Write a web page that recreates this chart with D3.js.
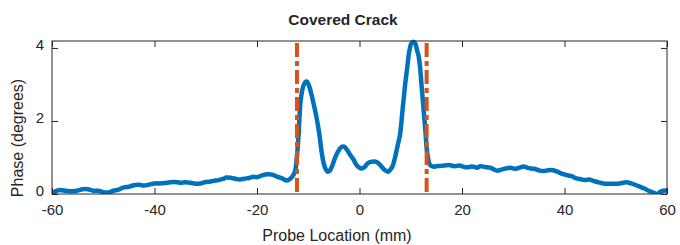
<!DOCTYPE html>
<html>
<head>
<meta charset="utf-8">
<style>
  body { margin: 0; background: #fff; }
  text { font-family: "Liberation Sans", Arial, sans-serif; fill: #262626; }
</style>
</head>
<body>
<svg id="chart" width="680" height="245"></svg>
<script src="https://d3js.org/d3.v7.min.js"></script>
<script>
// probe location (mm) and phase (degrees)
var locations = [
  -60, -59, -58.5, -57, -55.5, -54, -53, -52, -51, -50, -49, -48, -47, -46, -45, -44, -43, -42,
  -41, -40, -39, -38, -37, -36, -35, -34, -33, -32, -31, -30, -29, -28.5, -27.5, -26.5, -26,
  -25, -24, -23.3, -22.5, -21.5, -20.7, -20, -19, -18, -17, -16, -15, -14.2, -13.5, -13, -12.6,
  -12.2, -11.9, -11.5, -11, -10.6, -10.3, -10, -9.5, -9, -8.35, -7.8, -7.4, -7, -6.6, -6.2,
  -5.8, -5.3, -4.8, -4.2, -3.6, -3, -2.4, -1.8, -1.2, -0.6, 0, 0.4, 1, 1.6, 2.2, 2.9, 3.6,
  4.3, 5, 5.6, 6.1, 6.5, 6.9, 7.4, 7.9, 8.4, 8.9, 9.3, 9.7, 10.1, 10.5, 10.9, 11.2, 11.5,
  11.8, 12.1, 12.4, 12.65, 12.9, 13.1, 13.35, 13.6, 13.9, 14.4, 15, 16, 17, 17.7, 18.5, 19.5,
  20.2, 20.9, 22, 23, 23.5, 24.5, 25.5, 26.8, 28, 29.4, 30.5, 31.2, 32, 33, 34, 35.2, 36,
  36.8, 37.8, 38.8, 39.6, 40.4, 41.5, 42.3, 43, 44, 44.9, 45.8, 46.7, 47.6, 48.5, 49.5,
  50.8, 51.5, 52.1, 53, 54, 54.7, 55.6, 56.4, 57.3, 57.8, 58.2, 58.7, 59.3, 60
];
var phase = [
  0.03, 0.09, 0.11, 0.08, 0.08, 0.13, 0.13, 0.09, 0.09, 0.05, 0.04, 0.09, 0.12, 0.18, 0.2, 0.24, 0.25, 0.23,
  0.26, 0.29, 0.29, 0.3, 0.32, 0.33, 0.31, 0.32, 0.31, 0.28, 0.29, 0.33, 0.34, 0.36, 0.38, 0.42, 0.45,
  0.44, 0.41, 0.40, 0.42, 0.44, 0.47, 0.46, 0.51, 0.54, 0.53, 0.47, 0.42, 0.37, 0.42, 0.50, 0.61,
  1.05, 1.6, 2.53, 2.94, 3.06, 3.08, 3.02, 2.8, 2.5, 2.07, 1.6, 1.16, 0.85, 0.68, 0.61,
  0.64, 0.78, 0.98, 1.16, 1.28, 1.3, 1.2, 1.07, 0.95, 0.8, 0.72, 0.7, 0.74, 0.84, 0.88, 0.89, 0.85,
  0.75, 0.65, 0.61, 0.68, 0.78, 0.98, 1.3, 1.62, 2.3, 2.99, 3.45, 3.9, 4.12, 4.17, 4.12, 3.95, 3.8,
  3.5, 2.99, 2.5, 2.07, 1.65, 1.26, 1.0, 0.84, 0.78, 0.75, 0.76, 0.77, 0.79, 0.79, 0.76, 0.78,
  0.75, 0.73, 0.75, 0.72, 0.76, 0.74, 0.72, 0.64, 0.68, 0.72, 0.69, 0.72, 0.75, 0.71, 0.69, 0.64, 0.63,
  0.65, 0.65, 0.60, 0.55, 0.52, 0.48, 0.43, 0.41, 0.38, 0.40, 0.35, 0.32, 0.29, 0.28, 0.28,
  0.29, 0.31, 0.32, 0.29, 0.24, 0.2, 0.15, 0.09, 0.04, 0.01, 0.0, 0.06, 0.09, 0.09
];
var crackEdges = [-12.2, 13.1];
var xTicks = [-60, -40, -20, 0, 20, 40, 60];
var yTicks = [0, 2, 4];

var svg = d3.select("#chart");
var plotLeft = 52, plotRight = 667, plotTop = 41, plotBottom = 194;

var x = d3.scaleLinear().domain([-60, 60]).range([plotLeft, plotRight]);
var y = d3.scaleLinear().domain([0, 4.19]).range([plotBottom, plotTop]);

var defs = svg.append("defs");
defs.append("clipPath").attr("id", "plotclip")
  .append("rect").attr("x", plotLeft).attr("y", plotTop - 2)
  .attr("width", plotRight - plotLeft).attr("height", plotBottom - plotTop + 2);

var pts = locations.map((d, i) => [d, phase[i]]);

// measured curve
svg.append("path")
  .datum(pts)
  .attr("clip-path", "url(#plotclip)")
  .attr("fill", "none")
  .attr("stroke", "#0072BD")
  .attr("stroke-width", 4.5)
  .attr("stroke-linejoin", "round")
  .attr("d", d3.line().x(d => x(d[0])).y(d => y(d[1])).curve(d3.curveCatmullRom.alpha(0.5)));

// crack edges
svg.selectAll(".edge")
  .data(crackEdges)
  .enter()
  .append("line")
  .attr("class", "edge")
  .attr("x1", d => x(d)).attr("x2", d => x(d))
  .attr("y1", plotTop + 2).attr("y2", plotBottom - 1)
  .attr("stroke", "#D95319")
  .attr("stroke-width", 4)
  .attr("stroke-dasharray", "14,4,5,4");

// box and axes
var axisColor = "#262626";
var fmt = d => String(d);
var xb = svg.append("g").attr("transform", "translate(0," + plotBottom + ")")
  .call(d3.axisBottom(x).tickValues(xTicks).tickSize(-6).tickPadding(10).tickFormat(fmt));
var xt = svg.append("g").attr("transform", "translate(0," + plotTop + ")")
  .call(d3.axisTop(x).tickValues(xTicks).tickSize(-6).tickFormat(""));
var yl = svg.append("g").attr("transform", "translate(" + plotLeft + ",0)")
  .call(d3.axisLeft(y).tickValues(yTicks).tickSize(-6).tickPadding(8).tickFormat(fmt));
var yr = svg.append("g").attr("transform", "translate(" + plotRight + ",0)")
  .call(d3.axisRight(y).tickValues(yTicks).tickSize(-6).tickFormat(""));

[xb, xt, yl, yr].forEach(function (g) {
  g.select(".domain").remove();
  g.selectAll("line").attr("stroke", axisColor).attr("stroke-width", 1);
  g.selectAll("text").attr("font-size", 15).attr("fill", axisColor)
    .style("font-family", "'Liberation Sans', Arial, sans-serif");
});
yl.selectAll("text").attr("dy", "0.1em");

svg.append("rect")
  .attr("x", plotLeft).attr("y", plotTop)
  .attr("width", plotRight - plotLeft).attr("height", plotBottom - plotTop)
  .attr("fill", "none").attr("stroke", axisColor).attr("stroke-width", 1);

// titles
svg.append("text")
  .attr("x", 343).attr("y", 25)
  .attr("text-anchor", "middle").attr("font-size", 15.5).attr("font-weight", "bold")
  .attr("fill", "#000")
  .text("Covered Crack");

svg.append("text")
  .attr("x", 337).attr("y", 241)
  .attr("text-anchor", "middle").attr("font-size", 16)
  .text("Probe Location (mm)");

svg.append("text")
  .attr("transform", "translate(23,138) rotate(-90)")
  .attr("text-anchor", "middle").attr("font-size", 16)
  .text("Phase (degrees)");
</script>
</body>
</html>
